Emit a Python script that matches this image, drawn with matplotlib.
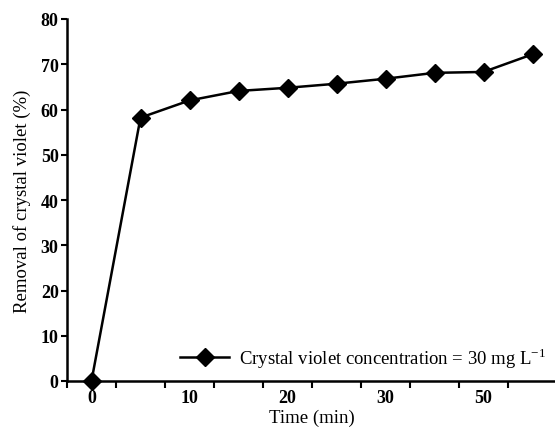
import matplotlib; matplotlib.use('Agg')
import matplotlib.pyplot as plt
import numpy as np

plt.rcParams['font.family'] = ['Liberation Serif', 'DejaVu Serif']
plt.rcParams['mathtext.fontset'] = 'custom'
plt.rcParams['mathtext.rm'] = 'Liberation Serif'

# time categories (min) and removal (%)
times = ["0", "5", "10", "15", "20", "25", "30", "40", "50", "60"]
shown = ["0", "10", "20", "30", "50"]
removal = [0.0, 58.2, 62.0, 64.1, 64.8, 65.7, 66.8, 68.1, 68.3, 72.2]

fig = plt.figure(figsize=(5.55, 4.35), dpi=100)
ax = fig.add_axes([67/555, 1-382/435, 490/555, 362/435])

idx = np.arange(len(times))
ax.plot(idx, removal, color='black', lw=1.8, marker='D', ms=9, mfc='black',
        label=r"Crystal violet concentration = 30 mg L$^{\mathregular{-1}}$", clip_on=False, zorder=3)

ax.set_xlim(-0.5, len(times) - 0.5)
ax.set_ylim(0, 80)
ax.set_yticks(range(0, 81, 10))
ax.set_xticks(idx - 0.5, minor=False)
ax.set_xticklabels([])
ax.set_xticks(idx, minor=True)
ax.set_xticklabels([t if t in shown else "" for t in times], minor=True)
ax.tick_params(axis='x', which='minor', length=0, pad=6, labelsize=13)
ax.tick_params(axis='x', which='major', length=5, width=1.5, direction='out')
ax.tick_params(axis='y', length=4, width=1.5, direction='out', labelsize=13, pad=2)
for lab in ax.get_xticklabels(minor=True) + ax.get_yticklabels():
    lab.set_fontweight('bold')

ax.spines['top'].set_visible(False)
ax.spines['right'].set_visible(False)
ax.spines['left'].set_linewidth(1.8)
ax.spines['bottom'].set_linewidth(1.8)

ax.set_xlabel("Time (min)", fontsize=13.5, labelpad=2)
ax.set_ylabel("Removal of crystal violet (%)", fontsize=13.5, labelpad=7)

ax.legend(loc='lower right', frameon=False, fontsize=13.5, handlelength=2.6,
          handletextpad=0.5, borderaxespad=0.2, bbox_to_anchor=(1.0, 0.0))

plt.savefig("out.png", dpi=100)
plt.close()
